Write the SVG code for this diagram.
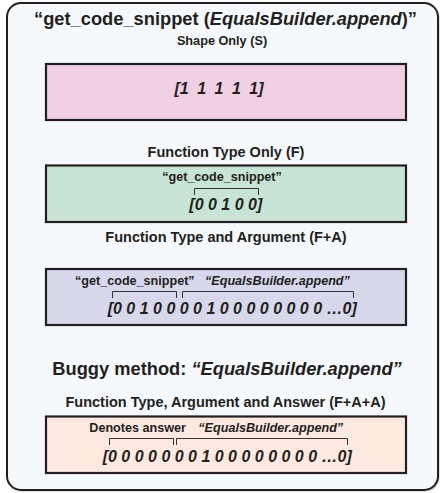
<svg xmlns="http://www.w3.org/2000/svg" width="440" height="493" viewBox="0 0 440 493">
<style>
text{font-family:"Liberation Sans",Arial,Helvetica,sans-serif;font-weight:bold;fill:#231f20}
.title{font-size:18.3px}
.head{font-size:14.5px}
.small{font-size:12.7px}
.lab{font-size:12.6px}
.bits{font-size:16px;font-style:italic}
.it{font-style:italic}
.box{stroke:#231f20;stroke-width:2.2}
.br{fill:none;stroke:#333;stroke-width:1}
</style>
<rect x="8.5" y="4.5" width="431" height="487" rx="14" fill="#9a9a9a" opacity="0.6"/>
<rect id="frame" x="7" y="3" width="431" height="487" rx="14" fill="#f5f9fb" stroke="#231f20" stroke-width="2"/>
<text class="title" x="225.5" y="25" text-anchor="middle">“get_code_snippet (<tspan class="it">EqualsBuilder.append</tspan>)”</text>

<g id="shape-only">
<text class="small" x="222" y="45" text-anchor="middle">Shape Only (S)</text>
<rect class="box" x="46" y="64" width="360" height="56" fill="#f2d0e3"/>
<text class="bits" x="219" y="93.5" text-anchor="middle" word-spacing="4">[1 1 1 1 1]</text>
</g>

<g id="function-type-only">
<text class="head" x="226" y="157" text-anchor="middle">Function Type Only (F)</text>
<rect class="box" x="46" y="165.5" width="360" height="56.5" fill="#c8e4d4"/>
<text class="lab" x="222" y="180.5" text-anchor="middle">“get_code_snippet”</text>
<text class="bits" x="189.3" y="210">[0 0 1 0 0]</text>
</g>

<g id="function-type-argument">
<text class="head" x="226" y="242" text-anchor="middle">Function Type and Argument (F+A)</text>
<rect class="box" x="46" y="269" width="360" height="56" fill="#d7d8ec"/>
<text class="lab" x="75" y="285">“get_code_snippet”</text>
<text class="lab it" x="205" y="285">“EqualsBuilder.append”</text>
<text class="bits" x="107.7" y="313.5">[0 0 1 0 0 0 0 1 0 0 0 0 0 0 0 0 …0]</text>
</g>

<text class="title" x="227" y="374.5" text-anchor="middle">Buggy method: <tspan class="it">“EqualsBuilder.append”</tspan></text>

<g id="function-type-argument-answer">
<text class="head" x="225.5" y="407" text-anchor="middle">Function Type, Argument and Answer (F+A+A)</text>
<rect class="box" x="46" y="416.5" width="360" height="56.5" fill="#fde9e0"/>
<text class="lab" x="89.3" y="432">Denotes answer</text>
<text class="lab it" x="198.3" y="432">“EqualsBuilder.append”</text>
<text class="bits" x="102.7" y="461.5">[0 0 0 0 0 0 0 1 0 0 0 0 0 0 0 0 …0]</text>
</g>

<g id="connectors">
<path class="br" d="M194.5 195V188.5H258.5V195"/>
<path class="br" d="M112.5 298V291.5H176.5V298"/>
<path class="br" d="M182.5 298V291.5H353.5V298"/>
<path class="br" d="M109.5 445V438.5H173.5V445"/>
<path class="br" d="M176.5 445V438.5H347.5V445"/>
</g>
</svg>
